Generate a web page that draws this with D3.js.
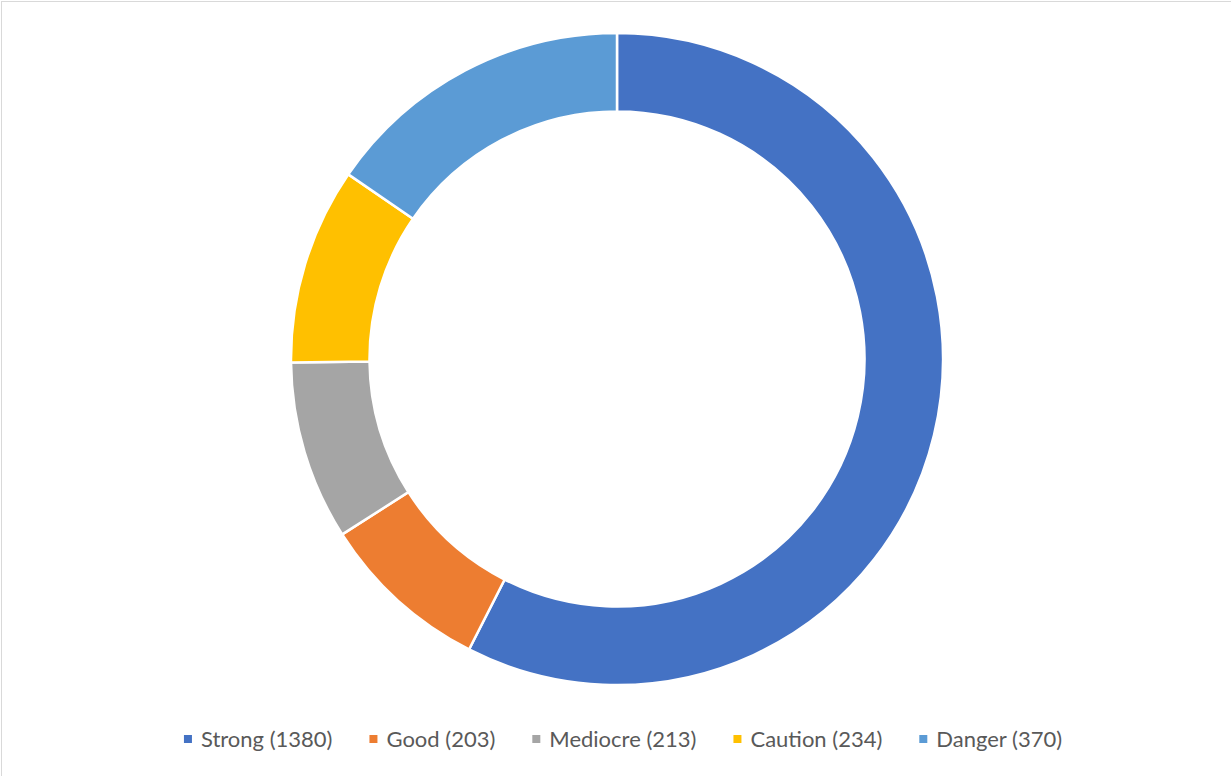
<!DOCTYPE html>
<html>
<head>
<meta charset="utf-8">
<script src="https://cdn.jsdelivr.net/npm/d3@7"></script>
<style>
  html, body { margin: 0; padding: 0; background: #fff; }
  svg { display: block; }
</style>
</head>
<body>
<svg id="chart" width="1231" height="776"></svg>
<script>
// Segment names, counts and palette
const categories = ["Strong", "Good", "Mediocre", "Caution", "Danger"];
const counts = [1380, 203, 213, 234, 370];
const colors = ["#4472C4", "#ED7D31", "#A5A5A5", "#FFC000", "#5B9BD5"];

const width = 1231, height = 776;
const cx = 617, cy = 359;
const outerR = 326, innerR = 247.5;

const svg = d3.select("#chart");

// Light frame around the chart area
svg.append("rect")
  .attr("x", 1.5).attr("y", 1.5)
  .attr("width", width + 10).attr("height", height + 10)
  .attr("fill", "none")
  .attr("stroke", "#d9d9d9")
  .attr("stroke-width", 1);

const data = categories.map((c, i) => ({ name: c, value: counts[i], color: colors[i] }));

const pie = d3.pie().value(d => d.value).sort(null);
const arc = d3.arc().innerRadius(innerR).outerRadius(outerR);

svg.append("g")
  .attr("transform", `translate(${cx},${cy})`)
  .selectAll("path")
  .data(pie(data))
  .join("path")
  .attr("d", arc)
  .attr("fill", d => d.data.color)
  .attr("stroke", "#fff")
  .attr("stroke-width", 2.5)
  .attr("stroke-linejoin", "miter");

// Legend along the bottom
const legend = svg.append("g").attr("font-family", "Lato, 'Open Sans', sans-serif")
  .attr("font-size", 22).attr("fill", "#595959");

const items = legend.selectAll("g").data(data).join("g");
items.append("rect")
  .attr("width", 8).attr("height", 8)
  .attr("y", -4)
  .attr("fill", d => d.color);
items.append("text")
  .attr("x", 17)
  .attr("dy", "0.35em")
  .text(d => `${d.name} (${d.value})`);

const gap = 37;
let widths = [];
items.each(function () { widths.push(this.getBBox().width); });
const total = d3.sum(widths) + gap * (widths.length - 1);
let x = 623 - total / 2;
items.attr("transform", (d, i) => {
  const t = `translate(${x},739)`;
  x += widths[i] + gap;
  return t;
});
</script>
</body>
</html>
